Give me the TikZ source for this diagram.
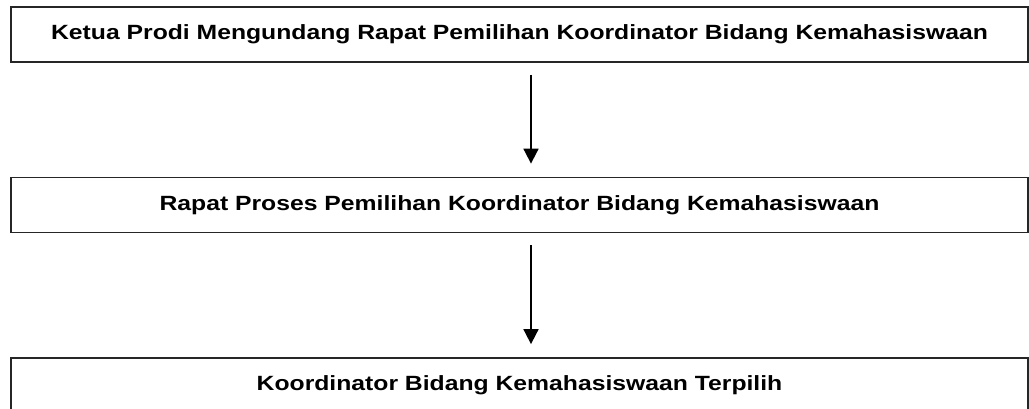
\documentclass[tikz,border=0pt]{standalone}
\usepackage{fontspec}
\setmainfont{Liberation Sans}
\newfontfamily\tahapfont[FakeStretch=1.2]{Liberation Sans}
\usetikzlibrary{arrows.meta}
\begin{document}
\begin{tikzpicture}[x=0.5pt,y=-0.5pt,
    tahap/.style={draw=black!85, line width=0.9pt, minimum width=508.5pt, minimum height=27.5pt, inner sep=0pt, font=\tahapfont\fontsize{10.3pt}{12pt}\selectfont\bfseries},
    alur/.style={line width=0.9pt, -{Triangle[length=7.5pt,width=7.5pt]}, shorten <=6pt, shorten >=6.5pt}]
  \useasboundingbox (0,0) rectangle (1029,408);
  \node[tahap] (undang) at (519.5,34.5) {Ketua Prodi Mengundang Rapat Pemilihan Koordinator Bidang Kemahasiswaan};
  \node[tahap] (proses) at (519.5,205) {Rapat Proses Pemilihan Koordinator Bidang Kemahasiswaan};
  \node[tahap] (pilih) at (519.5,385.5) {Koordinator Bidang Kemahasiswaan Terpilih};
  \draw[alur] (undang.south -| 531,0) -- (proses.north -| 531,0);
  \draw[alur] (proses.south -| 531,0) -- (pilih.north -| 531,0);
\end{tikzpicture}
\end{document}
